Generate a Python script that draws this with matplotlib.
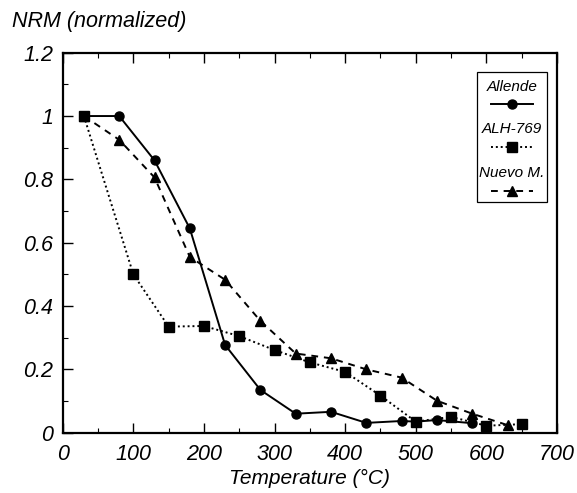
import matplotlib
matplotlib.use("Agg")
import matplotlib.pyplot as plt
from matplotlib.patches import Rectangle
from matplotlib.ticker import MultipleLocator, FuncFormatter

plt.rcParams['font.family'] = ['Liberation Sans', 'DejaVu Sans']
plt.rcParams['font.style'] = 'italic'

allende_t = [30, 80, 130, 180, 230, 280, 330, 380, 430, 480, 500, 530, 580]
allende_v = [1.0, 1.0, 0.86, 0.645, 0.277, 0.135, 0.06, 0.066, 0.031, 0.037, 0.035, 0.04, 0.03]

alh_t = [30, 100, 150, 200, 250, 300, 350, 400, 450, 500, 550, 600, 650]
alh_v = [1.0, 0.5, 0.335, 0.337, 0.305, 0.261, 0.222, 0.192, 0.117, 0.035, 0.05, 0.022, 0.027]

nuevo_t = [30, 80, 130, 180, 230, 280, 330, 380, 430, 480, 530, 580, 630]
nuevo_v = [1.0, 0.925, 0.806, 0.555, 0.483, 0.353, 0.25, 0.235, 0.2, 0.174, 0.101, 0.06, 0.024]

labels = ["Allende", "ALH-769", "Nuevo M."]

fig = plt.figure(figsize=(5.77, 4.93), dpi=100)
ax = fig.add_axes([0.1087, 0.1223, 0.9653 - 0.1087, 0.8931 - 0.1223])

styles = [
    dict(ls='-', marker='o', ms=6.5, lw=1.4),
    dict(ls=(0, (1, 1.5)), marker='s', ms=6.5, lw=1.4),
    dict(ls=(0, (3.5, 3)), marker='^', ms=7.5, lw=1.4),
]
series = [(allende_t, allende_v), (alh_t, alh_v), (nuevo_t, nuevo_v)]
for (t, v), st in zip(series, styles):
    ax.plot(t, v, color='black', **st)

ax.set_xlim(0, 700)
ax.set_ylim(0, 1.2)
ax.xaxis.set_major_locator(MultipleLocator(100))
ax.xaxis.set_minor_locator(MultipleLocator(50))
ax.yaxis.set_major_locator(MultipleLocator(0.2))
ax.yaxis.set_minor_locator(MultipleLocator(0.1))
ax.yaxis.set_major_formatter(FuncFormatter(lambda v, p: f"{v:g}"))
ax.tick_params(which='both', direction='in', top=True, right=False)
ax.tick_params(which='major', length=7, width=1, labelsize=15.5)
ax.tick_params(axis='x', which='major', pad=8)
ax.tick_params(axis='y', which='major', pad=7)
ax.tick_params(which='minor', length=3.5, width=0.8)
for lab in ax.get_xticklabels() + ax.get_yticklabels():
    lab.set_style('italic')
for s in ax.spines.values():
    s.set_linewidth(1.6)

ax.set_xlabel("Temperature (°C)", fontsize=15, style='italic', labelpad=3)
fig.text(0.02, 0.957, "NRM (normalized)", fontsize=15.5, style='italic', va='center', ha='left')

# legend box drawn manually (label above sample)
ax.add_patch(Rectangle((0.838, 0.607), 0.142, 0.342, transform=ax.transAxes,
                       fill=False, ec='black', lw=0.9, zorder=5))
label_y = [0.910, 0.798, 0.683]
line_y = [0.864, 0.751, 0.636]
for lab, ly, sy, st in zip(labels, label_y, line_y, styles):
    ax.text(0.909, ly, lab, transform=ax.transAxes, fontsize=11, style='italic',
            ha='center', va='center', zorder=6)
    ax.plot([0.866, 0.909, 0.951], [sy, sy, sy], transform=ax.transAxes, color='black',
            ls=st['ls'], lw=st['lw'], marker=st['marker'], ms=st['ms'], markevery=[1],
            clip_on=False, zorder=6)

fig.savefig("out.png", dpi=100)
